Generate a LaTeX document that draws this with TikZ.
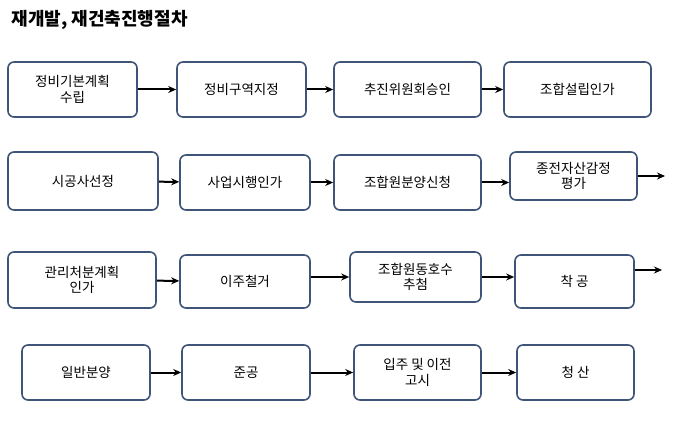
\documentclass[tikz,border=0pt]{standalone}
\usepackage{fontspec}
\setmainfont{Noto Sans CJK KR}
\usetikzlibrary{arrows.meta}
\definecolor{bd}{HTML}{3E5478}
\begin{document}
\begin{tikzpicture}[x=1pt,y=-1pt,
  box/.style={draw=bd, line width=1.6pt, rounded corners=6pt, fill=white, align=center, font=\fontsize{13.5}{15.5}\selectfont, inner sep=0pt},
  arr/.style={-{Stealth[length=8pt,width=7pt]}, line width=2pt}]
\useasboundingbox (0,0) rectangle (690,430);
\node[anchor=west, font=\bfseries\fontsize{18}{20}\selectfont] (t) at (8,20) {재개발, 재건축진행절차};
\newcommand\bx[6]{\node[box, minimum width=#3-#2, minimum height=#5-#4] (#1) at ({(#2+#3)/2},{(#4+#5)/2}) {#6};}
\bx{a1}{8}{137}{62}{117}{정비기본계획\\수립}
\bx{a2}{177}{306}{62}{117}{정비구역지정}
\bx{a3}{334}{481}{62}{117}{추진위원회승인}
\bx{a4}{504}{651}{62}{117}{조합설립인가}
\bx{b1}{8}{158}{152}{210}{시공사선정}
\bx{b2}{180}{310}{155}{210}{사업시행인가}
\bx{b3}{334}{481}{155}{210}{조합원분양신청}
\bx{b4}{510}{637}{152}{200}{종전자산감정\\평가}
\bx{c1}{8}{156}{252}{308}{관리처분계획\\인가}
\bx{c2}{180}{310}{255}{308}{이주철거}
\bx{c3}{350}{481}{252}{302}{조합원동호수\\추첨}
\bx{c4}{515}{634}{255}{308}{착 공}
\bx{d1}{22}{150}{345}{400}{일반분양}
\bx{d2}{182}{310}{345}{400}{준공}
\bx{d3}{354}{481}{345}{400}{입주 및 이전\\고시}
\bx{d4}{517}{634}{345}{400}{청 산}
\coordinate (eb) at (665,176);
\coordinate (ec) at (662,270);
\draw[arr] (a1) -- (a2); \draw[arr] (a2) -- (a3); \draw[arr] (a3) -- (a4);
\draw[arr] (b1) -- (b2); \draw[arr] (b2) -- (b3); \draw[arr] (b3.east) -- (b4.west|-b3.east); \draw[arr] (b4.east|-eb) -- (eb);
\draw[arr] (c1) -- (c2); \draw[arr] (c2.east|-c3) -- (c3); \draw[arr] (c3) -- (c4.west|-c3); \draw[arr] (c4.east|-ec) -- (ec);
\draw[arr] (d1) -- (d2); \draw[arr] (d2) -- (d3); \draw[arr] (d3) -- (d4);
\end{tikzpicture}
\end{document}
